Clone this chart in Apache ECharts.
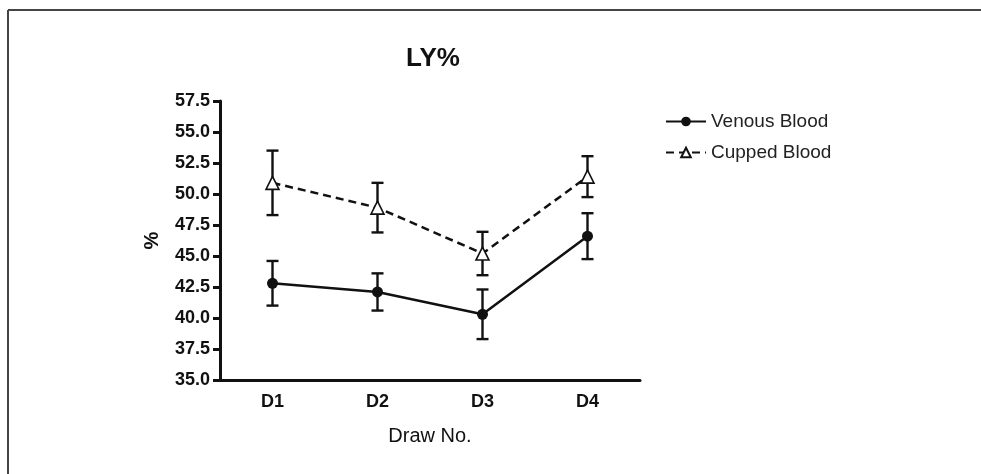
<!DOCTYPE html>
<html lang="en">
<head>
    <meta charset="UTF-8" />
    <title>LY%</title>
    <script src="https://cdn.jsdelivr.net/npm/echarts@6/dist/echarts.min.js"></script>
    <style>
        html, body { margin: 0; padding: 0; background: #fff; }
    </style>
</head>
<body>
    <div id="main" style="width: 981px; height: 474px"></div>

    <script>
        // data
        var draws = ["D1", "D2", "D3", "D4"];
        var venousMean = [42.8, 42.1, 40.3, 46.6];
        var venousErr = [1.8, 1.5, 2.0, 1.85];
        var cuppedMean = [50.9, 48.9, 45.2, 51.4];
        var cuppedErr = [2.6, 2.0, 1.75, 1.65];

        var font = "Liberation Sans, Arial, sans-serif";

        function errData(mean, err) {
            return mean.map(function (m, i) {
                return [i, m - err[i], m + err[i]];
            });
        }

        function renderErr(params, api) {
            var lo = api.coord([api.value(0), api.value(1)]);
            var hi = api.coord([api.value(0), api.value(2)]);
            var cap = 6;
            var st = { stroke: "#111", lineWidth: 2.4 };
            return {
                type: "group",
                children: [
                    { type: "line", shape: { x1: lo[0], y1: lo[1], x2: hi[0], y2: hi[1] }, style: st },
                    { type: "line", shape: { x1: hi[0] - cap, y1: hi[1], x2: hi[0] + cap, y2: hi[1] }, style: st },
                    { type: "line", shape: { x1: lo[0] - cap, y1: lo[1], x2: lo[0] + cap, y2: lo[1] }, style: st },
                ],
            };
        }

        var chart = echarts.init(document.getElementById("main"));

        var option = {
            animation: false,
            backgroundColor: "#fff",
            textStyle: { fontFamily: font },
            title: {
                text: "LY%",
                left: 428,
                top: 41,
                textAlign: "center",
                textStyle: { fontFamily: font, fontSize: 26, fontWeight: "bold", color: "#111" },
            },
            legend: {
                orient: "vertical",
                left: 660,
                top: 107,
                itemWidth: 40,
                itemHeight: 12,
                itemGap: 12,
                textStyle: { fontFamily: font, fontSize: 19, color: "#222" },
                data: ["Venous Blood", "Cupped Blood"],
            },
            grid: { left: 220, right: 341, top: 101, bottom: 94 },
            xAxis: {
                type: "category",
                data: draws,
                name: "Draw No.",
                nameLocation: "middle",
                nameGap: 46,
                nameTextStyle: { fontFamily: font, fontSize: 20, color: "#111" },
                axisLine: { lineStyle: { color: "#111", width: 3 } },
                axisTick: { alignWithLabel: true, length: 9, lineStyle: { width: 3, color: "#111" } },
                axisLabel: { margin: 13, fontFamily: font, fontSize: 18, fontWeight: "bold", color: "#111" },
                splitLine: { show: false },
            },
            yAxis: {
                type: "value",
                min: 35,
                max: 57.5,
                interval: 2.5,
                name: "%",
                nameLocation: "middle",
                nameRotate: 90,
                nameGap: 58,
                nameTextStyle: { fontFamily: font, fontSize: 20, fontWeight: "bold", color: "#111" },
                axisLine: { show: true, lineStyle: { color: "#111", width: 3 } },
                axisTick: { show: true, length: 7, lineStyle: { width: 3, color: "#111" } },
                axisLabel: {
                    margin: 10,
                    fontFamily: font,
                    fontSize: 18,
                    fontWeight: "bold",
                    color: "#111",
                    formatter: function (v) { return v.toFixed(1); },
                },
                splitLine: { show: false },
            },
            series: [
                {
                    type: "custom",
                    name: "venousErr",
                    data: errData(venousMean, venousErr),
                    renderItem: renderErr,
                    encode: { x: 0, y: [1, 2] },
                    z: 1,
                    silent: true,
                },
                {
                    type: "custom",
                    name: "cuppedErr",
                    data: errData(cuppedMean, cuppedErr),
                    renderItem: renderErr,
                    encode: { x: 0, y: [1, 2] },
                    z: 1,
                    silent: true,
                },
                {
                    name: "Venous Blood",
                    type: "line",
                    data: venousMean,
                    symbol: "circle",
                    symbolSize: 11,
                    itemStyle: { color: "#111" },
                    lineStyle: { color: "#111", width: 2.5 },
                    z: 3,
                },
                {
                    name: "Cupped Blood",
                    type: "line",
                    data: cuppedMean,
                    symbol: "triangle",
                    symbolSize: 13,
                    itemStyle: { color: "#fff", borderColor: "#111", borderWidth: 1.6 },
                    lineStyle: { color: "#111", width: 2.5, type: [8, 5] },
                    z: 3,
                },
            ],
            graphic: [
                { type: "line", shape: { x1: 8, y1: 10, x2: 981, y2: 10 }, style: { stroke: "#444", lineWidth: 2 } },
                { type: "line", shape: { x1: 8, y1: 10, x2: 8, y2: 474 }, style: { stroke: "#444", lineWidth: 2 } },
            ],
        };
        chart.setOption(option);
    </script>
</body>
</html>
